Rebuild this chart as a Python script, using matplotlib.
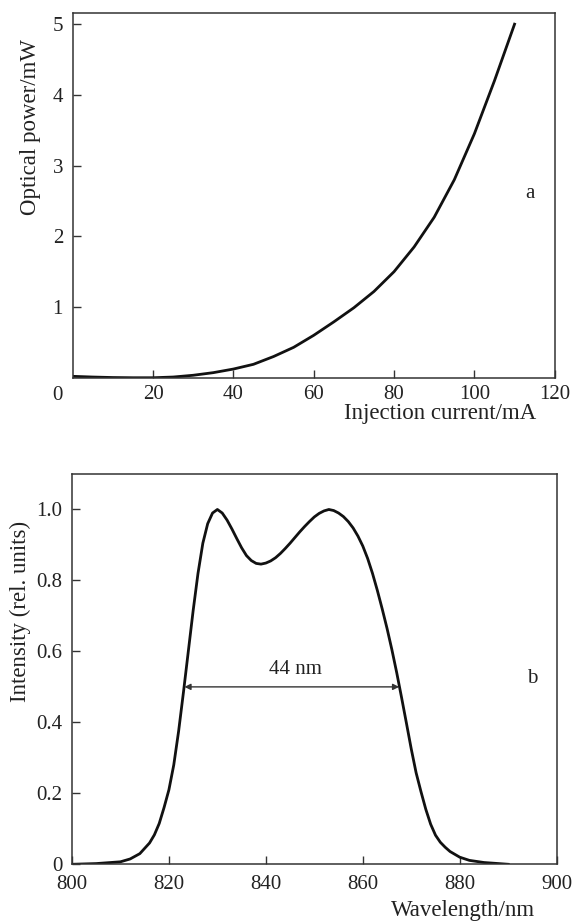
import matplotlib
matplotlib.use('Agg')
from matplotlib import pyplot as plt

# Data: panel a (light-current curve)
current_ma = [0, 5, 10, 15, 20, 25, 30, 35, 40, 45, 50, 55, 60, 65, 70, 75,
              80, 85, 90, 95, 100, 105, 110]
power_mw = [0.02, 0.01, 0.003, 0.0, 0.0, 0.01, 0.035, 0.072, 0.123, 0.19,
            0.30, 0.43, 0.60, 0.79, 0.99, 1.22, 1.5, 1.85, 2.27, 2.8, 3.45,
            4.2, 5.0]

# Data: panel b (emission spectrum)
wavelength_nm = [800, 805, 810, 812, 814, 816, 817, 818, 819, 820, 821, 822,
                 823, 824, 825, 826, 827, 828, 829, 830, 831, 832, 833, 834,
                 835, 836, 837, 838, 839, 840, 841, 842, 843, 844, 845, 846,
                 847, 848, 849, 850, 851, 852, 853, 854, 855, 856, 857, 858,
                 859, 860, 861, 862, 863, 864, 865, 866, 867, 868, 869, 870,
                 871, 872, 873, 874, 875, 876, 877, 878, 880, 882, 885, 888,
                 890]
intensity = [0.0, 0.002, 0.007, 0.015, 0.03, 0.06, 0.083, 0.115, 0.16, 0.21,
             0.28, 0.375, 0.485, 0.60, 0.715, 0.82, 0.905, 0.96, 0.99, 1.0,
             0.99, 0.97, 0.945, 0.918, 0.892, 0.87, 0.856, 0.848, 0.846,
             0.849, 0.855, 0.864, 0.876, 0.89, 0.905, 0.921, 0.937, 0.952,
             0.966, 0.979, 0.989, 0.996, 1.0, 0.997, 0.99, 0.98, 0.966, 0.948,
             0.925, 0.897, 0.862, 0.82, 0.772, 0.72, 0.665, 0.605, 0.54, 0.47,
             0.398, 0.325, 0.258, 0.205, 0.155, 0.113, 0.082, 0.062, 0.048,
             0.036, 0.02, 0.011, 0.005, 0.002, 0.0]
fwhm_left, fwhm_right = 823.2, 867.5

plt.rcParams['font.family'] = ['Liberation Serif', 'DejaVu Serif']
TICK_FS = 15
LABEL_FS = 16.5
EDGE = '#333333'
TXT = '#222222'

fig = plt.figure(figsize=(5.74, 9.22), dpi=100)
ax1 = fig.add_axes([0.1267, 0.5903, 0.8397, 0.3953])
ax2 = fig.add_axes([0.1254, 0.0626, 0.8444, 0.4233])

for ax in (ax1, ax2):
    for s in ax.spines.values():
        s.set_color(EDGE)
        s.set_linewidth(1.1)
    ax.tick_params(direction='in', length=5.5, width=1.0, color=EDGE,
                   labelsize=TICK_FS, labelcolor=TXT, pad=7)

# Panel a
ax1.plot(current_ma, power_mw, color='#111111', lw=2.0)
ax1.set_xlim(0, 120)
ax1.set_ylim(0, 5.154)
ax1.set_xticks([20, 40, 60, 80, 100, 120])
ax1.set_yticks([1, 2, 3, 4, 5])
ax1.tick_params(axis='x', pad=5.5)
ax1.annotate('0', xy=(0, 0), xytext=(-11, -12.5), textcoords='offset points',
             ha='center', va='center', fontsize=TICK_FS, color=TXT)
ax1.text(0.9627, -0.113, 'Injection current/mA', transform=ax1.transAxes,
         ha='right', va='baseline', fontsize=LABEL_FS, color=TXT)
ax1.set_ylabel('Optical power/mW', fontsize=LABEL_FS, color=TXT)
ax1.yaxis.set_label_coords(-0.087, 0.688)
ax1.yaxis.label.set_verticalalignment('center')
ax1.text(113.8, 2.61, 'a', fontsize=TICK_FS, ha='center', va='center',
         color=TXT)

# Panel b
ax2.plot(wavelength_nm, intensity, color='#111111', lw=2.0)
ax2.set_xlim(800, 900)
ax2.set_ylim(0, 1.1)
ax2.set_xticks([800, 820, 840, 860, 880, 900])
ax2.set_yticks([0, 0.2, 0.4, 0.6, 0.8, 1.0])
ax2.set_yticklabels(['0', '0.2', '0.4', '0.6', '0.8', '1.0'])
ax2.tick_params(axis='x', pad=7.5)
ax2.text(0.955, -0.133, 'Wavelength/nm', transform=ax2.transAxes,
         ha='right', va='baseline', fontsize=LABEL_FS, color=TXT)
ax2.set_ylabel('Intensity (rel. units)', fontsize=LABEL_FS, color=TXT)
ax2.yaxis.set_label_coords(-0.107, 0.649)
ax2.yaxis.label.set_verticalalignment('center')
ax2.annotate('', xy=(fwhm_left, 0.5), xytext=(fwhm_right, 0.5),
             arrowprops=dict(arrowstyle='<|-|>', color='#333333', lw=1.0,
                             mutation_scale=9, shrinkA=0, shrinkB=0))
ax2.text(846.1, 0.548, '44 nm', fontsize=TICK_FS, ha='center', va='center',
         color=TXT)
ax2.text(894.9, 0.525, 'b', fontsize=TICK_FS, ha='center', va='center',
         color=TXT)

fig.savefig('out.png', dpi=100)
